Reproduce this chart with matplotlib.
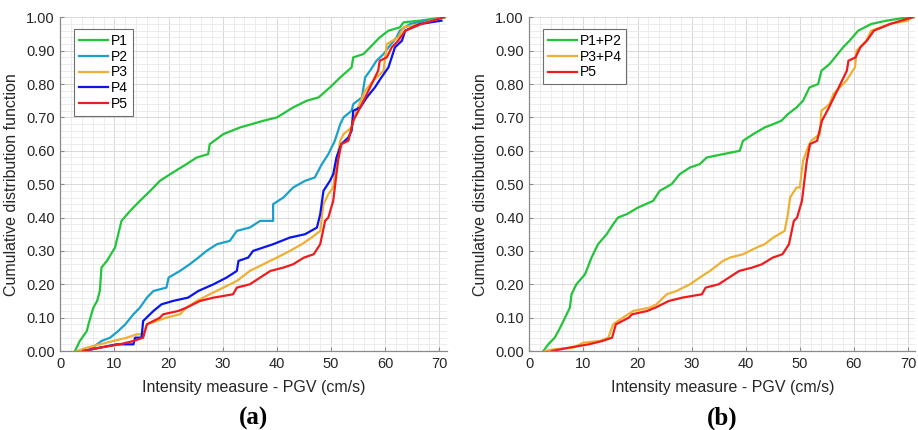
import matplotlib
matplotlib.use("Agg")
import matplotlib.pyplot as plt
from matplotlib.ticker import MultipleLocator, FormatStrFormatter

plt.rcParams['font.family'] = ['Liberation Sans', 'DejaVu Sans']

# ---- data ----
p1_x = [2.7, 3.6, 4.9, 5.2, 6.1, 6.8, 7.3, 7.6, 8.6, 10.1, 11.3, 12.9, 14.7, 16.6, 18.4, 20.3, 23.3, 25.2, 27.3, 27.6,
        30.1, 33.2, 37.5, 40.0, 43.0, 45.5, 47.7, 49.8, 51.7, 53.8, 54.1, 56.0, 57.8, 59.0, 60.6, 62.7, 63.4, 66.4, 70.8]
p1_y = [0.00, 0.03, 0.06, 0.08, 0.13, 0.15, 0.18, 0.25, 0.27, 0.31, 0.39, 0.42, 0.45, 0.48, 0.51, 0.53, 0.56, 0.58, 0.59, 0.62,
        0.65, 0.67, 0.69, 0.70, 0.73, 0.75, 0.76, 0.79, 0.82, 0.85, 0.88, 0.89, 0.92, 0.94, 0.96, 0.97, 0.985, 0.99, 1.00]

p2_x = [5.1, 7.6, 9.2, 10.7, 12.0, 13.5, 14.7, 16.0, 17.2, 19.6, 20.0, 22.1, 23.9, 25.5, 27.0, 28.9, 31.3, 32.6, 35.0, 36.9,
        39.3, 39.3, 41.2, 43.0, 45.2, 47.0, 48.3, 49.5, 50.7, 51.7, 52.3, 53.8, 54.1, 55.7, 56.3, 57.2, 58.4, 59.7, 60.6, 62.1,
        62.7, 64.6, 67.7, 71.0]
p2_y = [0.00, 0.03, 0.04, 0.06, 0.08, 0.11, 0.13, 0.16, 0.18, 0.19, 0.22, 0.24, 0.26, 0.28, 0.30, 0.32, 0.33, 0.36, 0.37, 0.39,
        0.39, 0.44, 0.46, 0.49, 0.51, 0.52, 0.56, 0.59, 0.63, 0.68, 0.70, 0.72, 0.74, 0.76, 0.82, 0.84, 0.87, 0.89, 0.91, 0.94,
        0.96, 0.98, 0.99, 1.00]

p3_x = [3.0, 4.9, 7.3, 9.8, 12.3, 14.1, 15.3, 16.0, 17.8, 19.6, 22.1, 23.3, 25.2, 27.6, 30.1, 32.6, 35.0, 37.5, 40.0, 42.4,
        44.6, 46.4, 48.0, 48.6, 49.5, 50.4, 51.0, 51.7, 52.3, 53.8, 54.7, 56.3, 57.8, 59.7, 60.3, 62.4, 63.4, 66.4, 70.8]
p3_y = [0.00, 0.01, 0.02, 0.03, 0.04, 0.05, 0.05, 0.08, 0.09, 0.10, 0.11, 0.13, 0.15, 0.17, 0.19, 0.21, 0.24, 0.26, 0.28, 0.30,
        0.32, 0.34, 0.36, 0.44, 0.47, 0.49, 0.57, 0.63, 0.65, 0.67, 0.72, 0.78, 0.81, 0.84, 0.92, 0.94, 0.97, 0.98, 1.00]

p4_x = [4.2, 7.3, 10.4, 13.5, 13.8, 15.0, 15.3, 17.2, 18.7, 20.8, 23.6, 25.5, 28.3, 30.7, 32.6, 32.9, 34.7, 35.6, 39.3, 42.4,
        45.2, 47.4, 48.0, 48.6, 49.8, 50.4, 51.0, 51.9, 53.2, 53.8, 54.1, 55.4, 56.6, 58.1, 59.3, 60.6, 61.8, 63.1, 63.7, 66.4,
        70.4]
p4_y = [0.00, 0.01, 0.02, 0.02, 0.04, 0.04, 0.09, 0.12, 0.14, 0.15, 0.16, 0.18, 0.20, 0.22, 0.24, 0.27, 0.28, 0.30, 0.32, 0.34,
        0.35, 0.37, 0.41, 0.48, 0.51, 0.53, 0.58, 0.62, 0.64, 0.66, 0.72, 0.73, 0.76, 0.79, 0.82, 0.85, 0.91, 0.93, 0.96, 0.98,
        0.99]

p5_x = [4.2, 7.3, 11.0, 13.5, 15.3, 16.0, 18.4, 19.0, 21.8, 23.3, 25.8, 28.3, 31.9, 32.6, 35.0, 36.9, 38.8, 41.2, 43.0, 45.0,
        46.8, 48.0, 48.9, 49.5, 50.4, 50.7, 51.3, 51.9, 53.2, 54.1, 55.4, 56.3, 57.5, 58.7, 59.0, 60.3, 61.2, 62.4, 63.7, 66.7,
        70.8]
p5_y = [0.00, 0.01, 0.02, 0.03, 0.04, 0.08, 0.10, 0.11, 0.12, 0.13, 0.15, 0.16, 0.17, 0.19, 0.20, 0.22, 0.24, 0.25, 0.26, 0.28,
        0.29, 0.32, 0.39, 0.40, 0.45, 0.49, 0.57, 0.62, 0.63, 0.69, 0.73, 0.76, 0.80, 0.84, 0.87, 0.88, 0.91, 0.93, 0.96, 0.98,
        1.00]

p12_x = [2.6, 3.5, 4.7, 5.7, 6.6, 7.5, 7.8, 8.7, 10.3, 11.5, 12.7, 14.3, 15.5, 16.4, 18.0, 20.1, 22.9, 24.1, 26.3, 27.8,
         29.7, 31.5, 32.8, 35.8, 38.9, 39.5, 41.4, 43.5, 45.1, 46.6, 47.8, 49.4, 50.6, 51.8, 53.4, 54.0, 55.5, 56.5, 58.0, 59.2,
         60.8, 63.2, 66.0, 70.0, 71.4]
p12_y = [0.00, 0.02, 0.04, 0.07, 0.10, 0.13, 0.17, 0.20, 0.23, 0.28, 0.32, 0.35, 0.38, 0.40, 0.41, 0.43, 0.45, 0.48, 0.50, 0.53,
         0.55, 0.56, 0.58, 0.59, 0.60, 0.63, 0.65, 0.67, 0.68, 0.69, 0.71, 0.73, 0.75, 0.79, 0.80, 0.84, 0.86, 0.88, 0.91, 0.93,
         0.96, 0.98, 0.99, 1.00, 1.00]

p34_x = [2.9, 4.4, 8.1, 10.0, 13.0, 14.6, 15.5, 17.3, 19.2, 22.3, 23.5, 25.4, 27.2, 29.7, 31.5, 33.4, 35.8, 37.1, 39.5, 42.0,
         43.5, 45.1, 47.2, 47.8, 48.2, 49.4, 50.0, 50.6, 51.5, 52.1, 53.7, 54.0, 55.5, 56.2, 57.4, 58.6, 60.2, 60.5, 62.3, 63.2,
         66.6, 70.0, 70.6]
p34_y = [0.00, 0.005, 0.01, 0.025, 0.03, 0.04, 0.08, 0.10, 0.12, 0.13, 0.14, 0.17, 0.18, 0.20, 0.22, 0.24, 0.27, 0.28, 0.29, 0.31,
         0.32, 0.34, 0.36, 0.41, 0.46, 0.49, 0.49, 0.57, 0.61, 0.63, 0.65, 0.72, 0.74, 0.77, 0.79, 0.81, 0.85, 0.90, 0.93, 0.96,
         0.98, 0.99, 1.00]

series_a = [("P1", p1_x, p1_y, "#22c43a"), ("P2", p2_x, p2_y, "#1aa0cc"), ("P3", p3_x, p3_y, "#eeb032"),
            ("P4", p4_x, p4_y, "#0a14ee"), ("P5", p5_x, p5_y, "#ee1c1c")]
series_b = [("P1+P2", p12_x, p12_y, "#22c43a"), ("P3+P4", p34_x, p34_y, "#eeb032"), ("P5", p5_x, p5_y, "#ee1c1c")]

fig = plt.figure(figsize=(9.18, 4.30), dpi=100)
axA = fig.add_axes([0.0657, 0.1837, 0.4209, 0.776])
axB = fig.add_axes([0.5766, 0.1837, 0.4205, 0.776])

for ax, series, lab in [(axA, series_a, "(a)"), (axB, series_b, "(b)")]:
    for name, xs, ys, c in series:
        ax.plot(xs, ys, color=c, lw=1.6, label=name)
    ax.set_xlim(0, 71.36)
    ax.set_ylim(0, 1)
    ax.xaxis.set_major_locator(MultipleLocator(10))
    ax.xaxis.set_minor_locator(MultipleLocator(2))
    ax.yaxis.set_major_locator(MultipleLocator(0.1))
    ax.yaxis.set_minor_locator(MultipleLocator(0.02))
    ax.yaxis.set_major_formatter(FormatStrFormatter('%.2f'))
    ax.grid(which='major', color='#d8d8d8', lw=0.7)
    ax.grid(which='minor', color='#e9e9e9', lw=0.6)
    ax.set_axisbelow(True)
    for s in ['top', 'right']:
        ax.spines[s].set_visible(False)
    for s in ['left', 'bottom']:
        ax.spines[s].set_color('#8a8a8a')
        ax.spines[s].set_linewidth(0.9)
    ax.tick_params(which='major', direction='in', length=3, color='#8a8a8a', labelsize=10.5, labelcolor='#262626', pad=4)
    ax.tick_params(which='minor', length=0)
    ax.set_xlabel("Intensity measure - PGV (cm/s)", fontsize=11.5, color='#262626', labelpad=7)
    ax.set_ylabel("Cumulative distribution function", fontsize=11.5, color='#262626', labelpad=5)
    leg = ax.legend(loc='upper left', fontsize=10, handlelength=2.1, handletextpad=0.2, borderpad=0.35,
                    labelspacing=0.12, fancybox=False, framealpha=1, edgecolor='#6e6e6e',
                    bbox_to_anchor=(0.017, 0.985))
    leg.get_frame().set_linewidth(0.8)
    cx = (ax.get_position().x0 + ax.get_position().x1) / 2
    fig.text(cx, 1 - 418 / 430, lab, ha='center', va='center', fontsize=18, fontweight='bold',
             family=['Liberation Serif', 'DejaVu Serif'])

fig.savefig("out.png", dpi=100)
